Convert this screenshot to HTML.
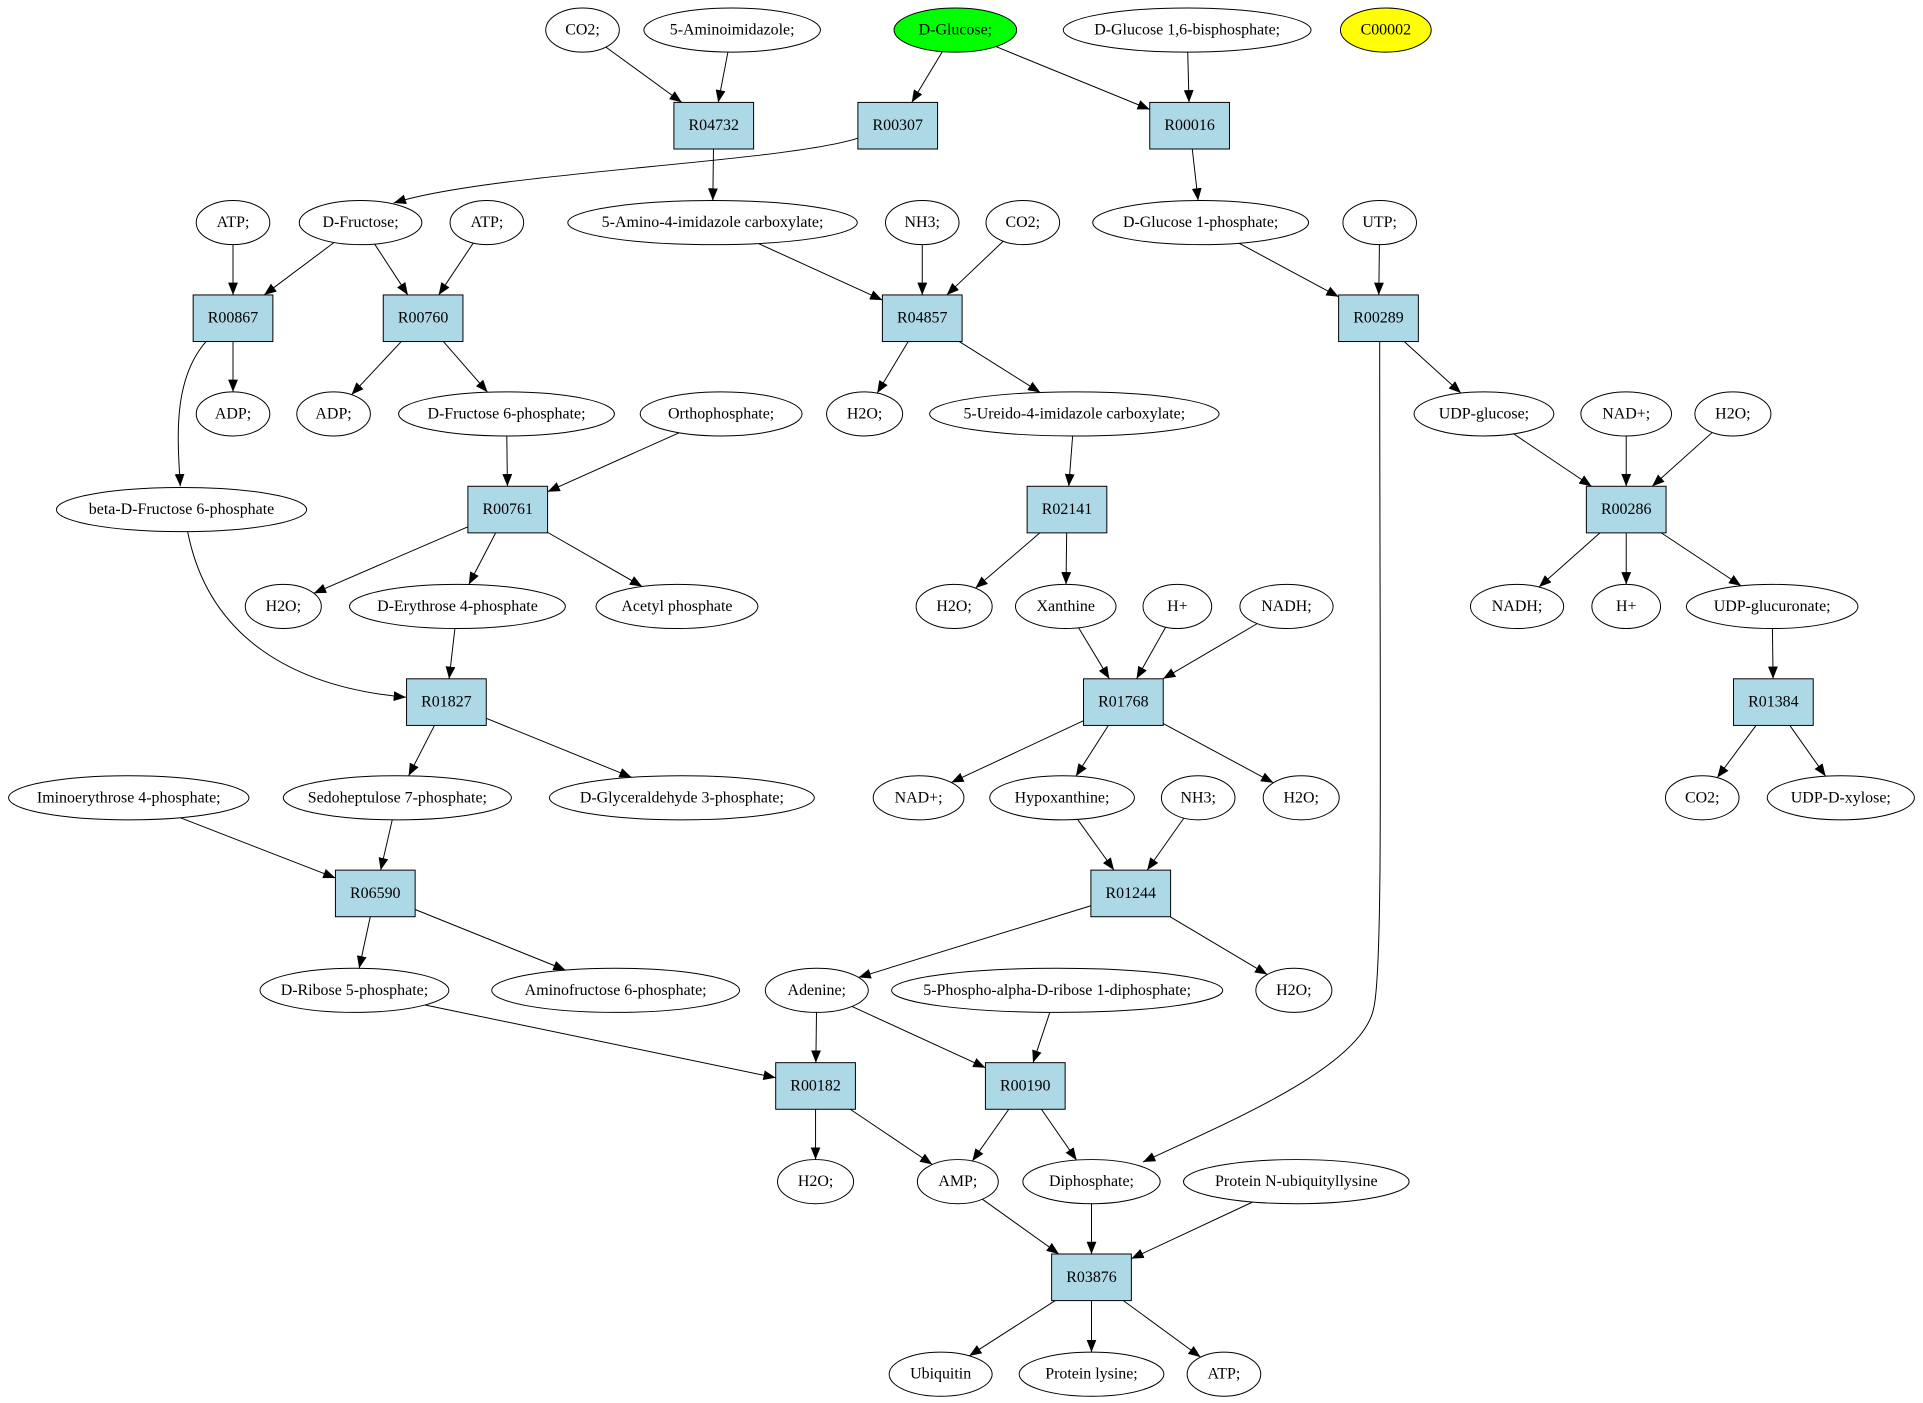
<!DOCTYPE html>
<html><head><meta charset="utf-8"><style>
html,body{margin:0;padding:0;background:#fff;}
svg{display:block;}
text{font-family:"Liberation Serif",serif;font-size:13px;text-anchor:middle;dominant-baseline:central;}
</style></head><body>
<svg id="s" width="1923" height="1403" viewBox="0 0 1568 1143" xmlns="http://www.w3.org/2000/svg">
<defs><marker id="a" markerWidth="10" markerHeight="8" refX="10" refY="4" orient="auto" markerUnits="userSpaceOnUse"><path d="M0,0 L10,4 L0,8 z" fill="#000"/></marker></defs>
<g id="edges" fill="none" stroke="#000" stroke-width="0.8"></g>
<g id="nodes"></g>
</svg>
<script>
var N={
e1:['CO2;',475,24,30],e2:['5-Aminoimidazole;',597,24,72],glc:['D-Glucose;',779,24,50,'#00ff00'],bis:['D-Glucose 1,6-bisphosphate;',968,24,101],c2:['C00002',1130,24,37,'#ffff00'],
R04732:['R04732',582,102],R00307:['R00307',732,102],R00016:['R00016',970,102],
atp1:['ATP;',190,181,30],fru:['D-Fructose;',294,181,50],atp2:['ATP;',397,181,30],a4i:['5-Amino-4-imidazole carboxylate;',581,181,118],nh3a:['NH3;',752,181,30],co2b:['CO2;',834,181,30],g1p:['D-Glucose 1-phosphate;',979,181,88],utp:['UTP;',1125,181,30],
R00867:['R00867',190,259],R00760:['R00760',345,259],R04857:['R04857',752,259],R00289:['R00289',1124,259],
adp1:['ADP;',190,337,30],adp2:['ADP;',272,337,30],f6p:['D-Fructose 6-phosphate;',413,337,88],orth:['Orthophosphate;',588,337,66],h2oa:['H2O;',705,337,31],ure:['5-Ureido-4-imidazole carboxylate;',876,337,118],udpg:['UDP-glucose;',1210,337,57],nad1:['NAD+;',1326,337,37],h2ob:['H2O;',1413,337,31],
beta:['beta-D-Fructose 6-phosphate',148,415,102],R00761:['R00761',414,415],R02141:['R02141',870,415],R00286:['R00286',1326,415],
h2oc:['H2O;',231,494,31],e4p:['D-Erythrose 4-phosphate',373,494,88],acp:['Acetyl phosphate',552,494,66],h2od:['H2O;',778,494,31],xan:['Xanthine',869,494,41],hp1:['H+',960,494,28],nadh1:['NADH;',1049,494,38],nadh2:['NADH;',1237,494,38],hp2:['H+',1326,494,28],udpga:['UDP-glucuronate;',1445,494,70],
R01827:['R01827',364,572],R01768:['R01768',916,572],R01384:['R01384',1446,572],
imi:['Iminoerythrose 4-phosphate;',105,650,98],sedo:['Sedoheptulose 7-phosphate;',324,650,93],gap:['D-Glyceraldehyde 3-phosphate;',556,650,108],nad2:['NAD+;',749,650,37],hyp:['Hypoxanthine;',866,650,59],nh3b:['NH3;',977,650,30],h2oe:['H2O;',1061,650,31],co2c:['CO2;',1388,650,30],xyl:['UDP-D-xylose;',1501,650,60],
R06590:['R06590',306,728],R01244:['R01244',922,728],
dr5p:['D-Ribose 5-phosphate;',289,807,77],amf:['Aminofructose 6-phosphate;',502,807,101],ade:['Adenine;',666,807,42],prpp:['5-Phospho-alpha-D-ribose 1-diphosphate;',862,807,135],h2of:['H2O;',1055,807,31],
R00182:['R00182',665,885],R00190:['R00190',836,885],
h2og:['H2O;',665,963,31],amp:['AMP;',781,963,33],diph:['Diphosphate;',890,963,56],pnu:['Protein N-ubiquityllysine',1057,963,92],
R03876:['R03876',890,1041],
ubi:['Ubiquitin',767,1120,42],plys:['Protein lysine;',890,1120,59],atp3:['ATP;',998,1120,30]
};
var E=[['e1','R04732'],['e2','R04732'],['glc','R00307'],['glc','R00016'],['bis','R00016'],['R04732','a4i'],['R00016','g1p'],
['atp1','R00867'],['fru','R00867'],['fru','R00760'],['atp2','R00760'],['a4i','R04857'],['nh3a','R04857'],['co2b','R04857'],['g1p','R00289'],['utp','R00289'],
['R00867','adp1'],['R00760','adp2'],['R00760','f6p'],['R04857','h2oa'],['R04857','ure'],['R00289','udpg'],
['f6p','R00761'],['orth','R00761'],['ure','R02141'],['udpg','R00286'],['nad1','R00286'],['h2ob','R00286'],
['R00761','h2oc'],['R00761','e4p'],['R00761','acp'],['R02141','h2od'],['R02141','xan'],['R00286','nadh2'],['R00286','hp2'],['R00286','udpga'],
['e4p','R01827'],['xan','R01768'],['hp1','R01768'],['nadh1','R01768'],['udpga','R01384'],
['R01827','sedo'],['R01827','gap'],['R01768','nad2'],['R01768','hyp'],['R01768','h2oe'],['R01384','co2c'],['R01384','xyl'],
['imi','R06590'],['sedo','R06590'],['hyp','R01244'],['nh3b','R01244'],
['R06590','dr5p'],['R06590','amf'],['R01244','ade'],['R01244','h2of'],
['dr5p','R00182'],['ade','R00182'],['ade','R00190'],['prpp','R00190'],
['R00182','h2og'],['R00182','amp'],['R00190','amp'],['R00190','diph'],
['amp','R03876'],['diph','R03876'],['pnu','R03876'],
['R03876','ubi'],['R03876','plys'],['R03876','atp3']];
var NS='http://www.w3.org/2000/svg';
function el(t,a,p){var e=document.createElementNS(NS,t);for(var k in a)e.setAttribute(k,a[k]);p.appendChild(e);return e;}
var G=document.getElementById('nodes'),EG=document.getElementById('edges');
function bnd(n,dx,dy){var d=N[n];if(d.length<4){var hw=32.5,hh=19;var t=Math.min(hw/Math.abs(dx||1e-9),hh/Math.abs(dy||1e-9));return [d[1]+dx*t,d[2]+dy*t];}
var rx=d[3],ry=18;var t=1/Math.sqrt(dx*dx/(rx*rx)+dy*dy/(ry*ry));return [d[1]+dx*t,d[2]+dy*t];}
E.forEach(function(e){var a=N[e[0]],b=N[e[1]];var dx=b[1]-a[1],dy=b[2]-a[2];var p=bnd(e[0],dx,dy),q=bnd(e[1],-dx,-dy);
el('path',{d:'M'+p[0]+','+p[1]+' L'+q[0]+','+q[1],'marker-end':'url(#a)'},EG);});
['M700,112 C640,132 400,140 321,165','M168,278 C140,310 145,360 147,396','M153,433 C170,520 240,560 331,568','M1125,278 C1125,600 1128,790 1120,822 C1110,870 1000,915 932,947'].forEach(function(d){el('path',{d:d,'marker-end':'url(#a)'},EG);});
for(var k in N){var d=N[k];if(d.length<4){el('rect',{x:d[1]-32.5,y:d[2]-19,width:65,height:38,fill:'#add8e6',stroke:'#000','stroke-width':0.8},G);}
else el('ellipse',{cx:d[1],cy:d[2],rx:d[3],ry:18,fill:d[4]||'#fff',stroke:'#000','stroke-width':0.8},G);
var t=el('text',{x:d[1],y:d[2]},G);t.textContent=d[0];}
</script>
</body></html>
